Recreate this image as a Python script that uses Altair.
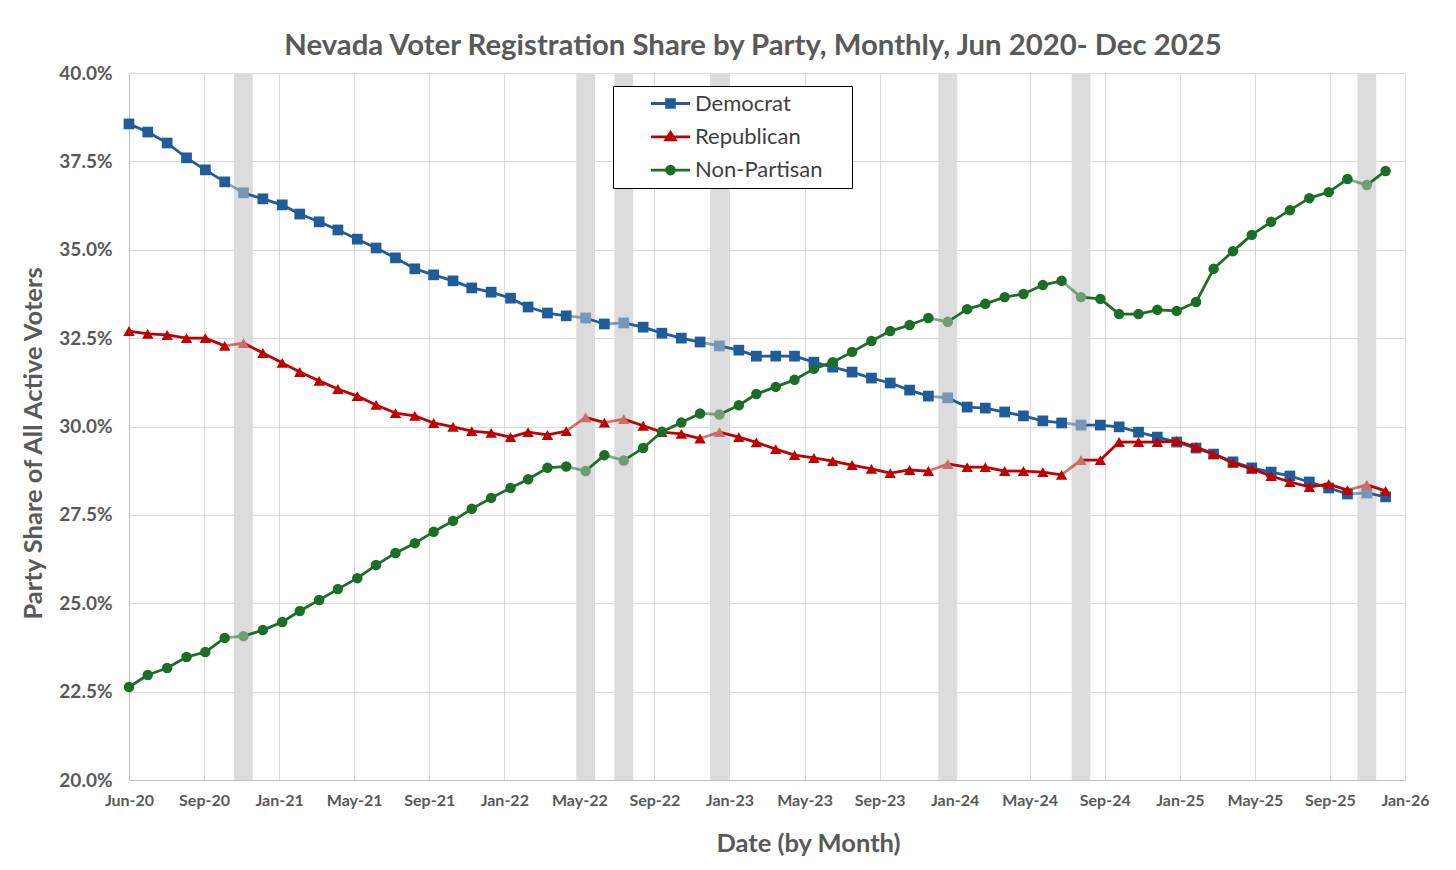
import altair as alt
import pandas as pd

# ---------------- data ----------------
start_month = "2020-06-01"
end_month = "2025-12-01"
parties = ["Democrat", "Republican", "Non-Partisan"]

democrat = [
    38.56, 38.33, 38.02, 37.60, 37.26, 36.92, 36.61,
    36.44, 36.27, 36.01, 35.79, 35.56, 35.30, 35.05, 34.77, 34.46, 34.29, 34.12, 33.92,
    33.80, 33.63, 33.38, 33.21, 33.13, 33.07, 32.90, 32.93, 32.81, 32.64, 32.50, 32.39,
    32.28, 32.16, 31.99, 31.99, 31.99, 31.82, 31.68, 31.54, 31.37, 31.23, 31.03, 30.86,
    30.81, 30.55, 30.52, 30.41, 30.30, 30.16, 30.10, 30.04, 30.04, 29.99, 29.84, 29.70,
    29.56, 29.39, 29.22, 29.00, 28.83, 28.71, 28.60, 28.43, 28.26, 28.09, 28.12, 28.01,
]
republican = [
    32.70, 32.62, 32.59, 32.50, 32.50, 32.28, 32.36,
    32.08, 31.80, 31.54, 31.29, 31.06, 30.86, 30.61, 30.38, 30.30, 30.10, 29.99, 29.87,
    29.82, 29.70, 29.84, 29.76, 29.87, 30.26, 30.11, 30.21, 30.02, 29.84, 29.79, 29.66,
    29.84, 29.70, 29.55, 29.36, 29.19, 29.11, 29.02, 28.91, 28.80, 28.68, 28.77, 28.74,
    28.94, 28.85, 28.85, 28.74, 28.74, 28.71, 28.63, 29.05, 29.05, 29.56, 29.56, 29.56,
    29.59, 29.42, 29.22, 28.97, 28.80, 28.60, 28.43, 28.29, 28.37, 28.20, 28.35, 28.18,
]
non_partisan = [
    22.63, 22.97, 23.17, 23.48, 23.62, 24.02, 24.07,
    24.24, 24.47, 24.78, 25.09, 25.40, 25.71, 26.08, 26.42, 26.70, 27.02, 27.33, 27.67,
    27.98, 28.26, 28.51, 28.83, 28.87, 28.74, 29.19, 29.04, 29.39, 29.85, 30.11, 30.37,
    30.34, 30.60, 30.92, 31.12, 31.32, 31.63, 31.82, 32.11, 32.42, 32.70, 32.87, 33.07,
    32.96, 33.32, 33.47, 33.66, 33.75, 34.00, 34.12, 33.66, 33.61, 33.18, 33.18, 33.30,
    33.27, 33.52, 34.46, 34.96, 35.42, 35.79, 36.12, 36.46, 36.63, 37.00, 36.83, 37.23,
]
# months highlighted with a grey band (and shown faded)
band_months = ["2020-12-01", "2022-06-01", "2022-08-01", "2023-01-01",
               "2024-01-01", "2024-08-01", "2025-11-01"]

y_ticks = [20.0, 22.5, 25.0, 27.5, 30.0, 32.5, 35.0, 37.5, 40.0]
x_tick_step_days = 120
x_tick_count = 18

# ---------------- styles ----------------
colors = ["#1F5C99", "#C00000", "#1B6E25"]
faded_colors = ["#7896B8", "#CC6D6D", "#719C78"]
grey_text = "#595959"
FONT = "Lato"

# ---------------- tables ----------------
months = pd.date_range(start_month, end_month, freq="MS")
series = {"Democrat": democrat, "Republican": republican, "Non-Partisan": non_partisan}
band_set = set(pd.to_datetime(band_months))

frames = {}
for p in parties:
    d = pd.DataFrame({"date": months, "value": series[p]})
    d["party"] = p
    d["faded"] = d["date"].isin(band_set)
    d["prev_date"] = d["date"].shift(1)
    d["prev_value"] = d["value"].shift(1)
    for c in ["date", "prev_date"]:
        d[c] = d[c].dt.strftime("%Y-%m-%d")
    frames[p] = d

bands = pd.DataFrame({"m": pd.to_datetime(band_months)})
bands["b0"] = (bands["m"] - pd.Timedelta(days=15)).dt.strftime("%Y-%m-%d")
bands["b1"] = (bands["m"] + pd.Timedelta(days=15)).dt.strftime("%Y-%m-%d")

t0 = pd.Timestamp(start_month)
tick_dates = [t0 + pd.Timedelta(days=x_tick_step_days * k) for k in range(x_tick_count)]
tick_values = [alt.DateTime(year=t.year, month=t.month, date=t.day, utc=True) for t in tick_dates]
dom_end = tick_dates[-1]

xscale = alt.Scale(type="utc",
                   domain=[alt.DateTime(year=t0.year, month=t0.month, date=t0.day, utc=True),
                           alt.DateTime(year=dom_end.year, month=dom_end.month, date=dom_end.day, utc=True)])
yscale = alt.Scale(domain=[20, 40], nice=False, zero=False)

AX_TITLE = 25.5
x_axis = alt.Axis(values=tick_values, labelExpr="utcFormat(datum.value, '%b-%y')", title="Date (by Month)",
                  grid=True, gridColor="#D9D9D9", ticks=False, domainColor="#BFBFBF",
                  labelFont=FONT, labelFontSize=16, labelFontWeight="bold", labelColor=grey_text,
                  labelPadding=12, labelOverlap=False, labelFlush=False,
                  titleFont=FONT, titleFontSize=AX_TITLE, titleFontWeight="bold", titleColor=grey_text,
                  titleX=679, titleY=71, titleBaseline="alphabetic", titleAlign="center")
y_axis = alt.Axis(values=y_ticks, labelExpr="format(datum.value, '.1f') + '%'",
                  title="Party Share of All Active Voters",
                  grid=True, gridColor="#D9D9D9", ticks=False, domainColor="#BFBFBF",
                  labelFont=FONT, labelFontSize=19, labelFontWeight="bold", labelColor=grey_text,
                  labelPadding=17,
                  titleFont=FONT, titleFontSize=AX_TITLE, titleFontWeight="bold", titleColor=grey_text,
                  titleX=-96, titleY=370, titleAngle=270, titleBaseline="middle", titleAlign="center")

band_layer = alt.Chart(bands).mark_rect(color="#DCDCDC").encode(
    x=alt.X("b0:T", scale=xscale, axis=x_axis),
    x2="b1:T",
    y=alt.value(0),
    y2=alt.value(707),
)

layers = [band_layer]
markers = {"Democrat": ("square", 115), "Republican": ("triangle-up", 130), "Non-Partisan": ("circle", 110)}
for i, p in enumerate(parties):
    d = frames[p]
    seg = alt.Chart(d).transform_filter("datum.prev_date != null").mark_rule(
        strokeWidth=2.8, color=colors[i]).encode(
        x=alt.X("prev_date:T", scale=xscale, axis=x_axis),
        x2="date:T",
        y=alt.Y("prev_value:Q", scale=yscale, axis=y_axis),
        y2="value:Q",
        opacity=alt.condition("datum.faded", alt.value(0.55), alt.value(1.0)),
    )
    shp, sz = markers[p]
    pts = alt.Chart(d).mark_point(filled=True, shape=shp, size=sz, opacity=1, strokeWidth=0).encode(
        x=alt.X("date:T", scale=xscale, axis=x_axis),
        y=alt.Y("value:Q", scale=yscale, axis=y_axis),
        color=alt.condition("datum.faded", alt.value(faded_colors[i]), alt.value(colors[i])),
    )
    layers += [seg, pts]

# legend symbols: a line with the series marker (concentric outlines make a solid marker);
# a zero-length segment on the right widens the legend box like the reference
pad_r = "M16.9,0L16.9,0"
line = "M-1.95,0H1.95"
sq = "".join(f"M{-h},{-h}H{h}V{h}H{-h}Z" for h in (0.39, 0.26, 0.13))
tri = "".join(f"M0,{-0.44*s}L{0.47*s},{0.31*s}L{-0.47*s},{0.31*s}Z" for s in (1.0, 0.66, 0.33))
circ = "".join(f"M{r},0A{r},{r},0,1,1,{-r},0A{r},{r},0,1,1,{r},0Z" for r in (0.39, 0.26, 0.13))
legend_paths = [pad_r + line + sq, pad_r + line + tri, pad_r + line + circ]

leg_kw = dict(title=None, orient="none", legendX=484, legendY=13, padding=6,
              strokeColor="#000000", fillColor="#FFFFFF", rowPadding=10.3,
              labelFont=FONT, labelFontSize=22, labelColor="#404040", labelOffset=13,
              symbolOffset=40,
              symbolSize=400, symbolStrokeWidth=2.8, symbolOpacity=1)
legend_layer = alt.Chart(pd.DataFrame({"party": parties})).transform_filter("false").mark_point(
    filled=False, size=400, strokeWidth=2.8, opacity=1).encode(
    color=alt.Color("party:N", scale=alt.Scale(domain=parties, range=colors), legend=alt.Legend(**leg_kw)),
    shape=alt.Shape("party:N", scale=alt.Scale(domain=parties, range=legend_paths), legend=alt.Legend(**leg_kw)),
)
layers.append(legend_layer)

chart = alt.layer(*layers).properties(
    width=1276, height=707,
    title=alt.TitleParams("Nevada Voter Registration Share by Party, Monthly, Jun 2020- Dec 2025",
                          font=FONT, fontSize=29.3, fontWeight="bold", color=grey_text,
                          anchor="middle", dx=-14, offset=3),
    autosize=alt.AutoSizeParams(type="none"),
    padding={"left": 121, "top": 65, "right": 35, "bottom": 85},
).configure_view(stroke=None).configure(background="white")

chart.save("out.html", embed_options={"renderer": "svg", "actions": False})
